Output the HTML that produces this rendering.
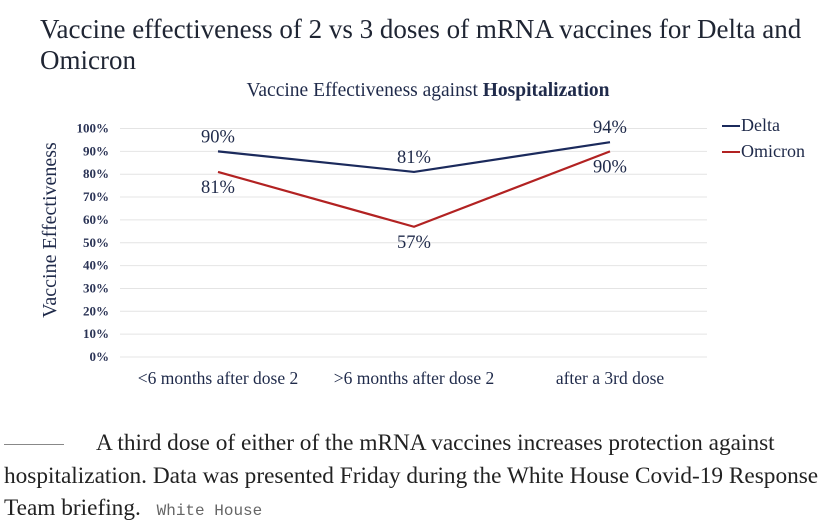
<!DOCTYPE html>
<html><head><meta charset="utf-8"><style>
body{margin:0;width:831px;height:520px;background:#fff;overflow:hidden;font-family:"Liberation Serif",serif;position:relative}
.t{position:absolute;left:40px;top:14px;font-size:27px;line-height:31px;color:#1f2533;width:790px}
.cap{position:absolute;left:4px;top:427px;font-size:23.3px;line-height:32.5px;color:#222;width:827px}
.cap .rule{display:inline-block;width:60px;border-top:1px solid #888;vertical-align:middle;margin-right:32px}
.cap .src{font-family:"Liberation Mono",monospace;font-size:16px;color:#666;margin-left:10px}
</style></head><body>
<div class="t">Vaccine effectiveness of 2 vs 3 doses of mRNA vaccines for Delta and Omicron</div>
<svg id="chart" width="831" height="420" style="position:absolute;left:0;top:0" font-family="Liberation Serif, serif"></svg>
<div class="cap"><span class="rule"></span>A third dose of either of the mRNA vaccines increases protection against hospitalization. Data was presented Friday during the White House Covid-19 Response Team briefing. <span class="src">White House</span></div>
<script>
const categories=["<6 months after dose 2",">6 months after dose 2","after a 3rd dose"];
const delta=[90,81,94];
const omicron=[81,57,90];
const yTicks=[0,10,20,30,40,50,60,70,80,90,100];
const svg=document.getElementById('chart');
const NS='http://www.w3.org/2000/svg';
const y=v=>357-v*(357-128.5)/100;
const x=i=>218+i*196;
function mk(t,a,txt){const e=document.createElementNS(NS,t);for(const k in a)e.setAttribute(k,a[k]);if(txt!==undefined)e.textContent=txt;svg.appendChild(e);return e;}
let e=mk('text',{x:428,y:96,'font-size':19.5,fill:'#1f2a4a','text-anchor':'middle'});
e.innerHTML='Vaccine Effectiveness against <tspan font-weight="bold">Hospitalization</tspan>';


e=mk('text',{x:0,y:0,'font-size':20,fill:'#1f2a4a','text-anchor':'middle',transform:'translate(56,230) rotate(-90)'},'Vaccine Effectiveness');


yTicks.forEach(v=>{
 let g=mk('line',{x1:120,x2:707,y1:y(v),y2:y(v),stroke:'#e4e4e4','stroke-width':1});
 
 
 let t=mk('text',{x:109,y:y(v)+4,'font-size':13,'font-weight':'bold',fill:'#2a3355','text-anchor':'end'},v+'%');
 
 
});
categories.forEach((c,i)=>{
 let t=mk('text',{x:x(i),y:384,'font-size':17.5,fill:'#1f2a4a','text-anchor':'middle'},c);
 
 
});
function series(vals,col,name,labelDy){
 let p=mk('polyline',{points:vals.map((v,i)=>x(i)+','+y(v)).join(' '),fill:'none',stroke:col,'stroke-width':2.2});
 
 
 vals.forEach((v,i)=>{
  let t=mk('text',{x:x(i),y:y(v)+labelDy[i],'font-size':18.5,fill:'#1f2a4a','text-anchor':'middle'},v+'%');
  
  
 });
}
series(delta,'#1b2a5c','delta',[-9,-9,-9]);
series(omicron,'#b22222','omicron',[21,21,21]);
[['Delta','#1b2a5c',131],['Omicron','#b22222',157]].forEach(([n,c,yy])=>{
 let l=mk('line',{x1:722,x2:740,y1:yy-5,y2:yy-5,stroke:c,'stroke-width':2});
 
 
 let t=mk('text',{x:741,y:yy,'font-size':18,fill:'#1f2a4a'},n);
 
 
});
</script>
</body></html>
